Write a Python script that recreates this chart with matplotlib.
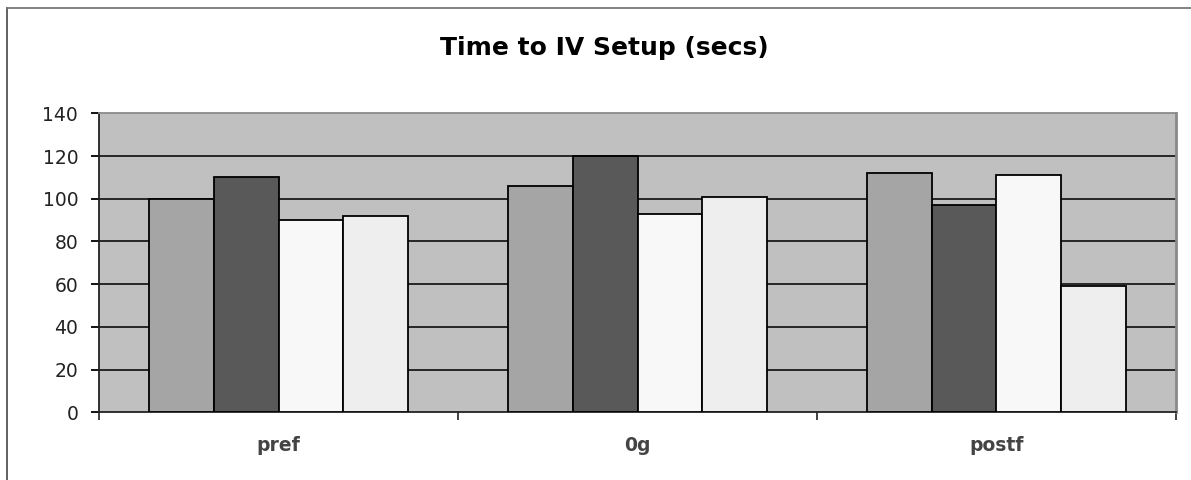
import matplotlib
matplotlib.use("Agg")
import matplotlib.pyplot as plt
import numpy as np
from matplotlib.lines import Line2D

categories = ["pref", "0g", "postf"]
series_a = [100, 106, 112]
series_b = [110, 120, 97]
series_c = [90, 93, 111]
series_d = [92, 101, 59]
y_ticks = [0, 20, 40, 60, 80, 100, 120, 140]

series = [series_a, series_b, series_c, series_d]
colors = ["#A5A5A5", "#595959", "#F8F8F8", "#EEEEEE"]

plt.rcParams["font.family"] = ["DejaVu Sans"]

W, H = 1191, 480
fig = plt.figure(figsize=(W / 100, H / 100), dpi=100)
fig.patch.set_facecolor("white")

# outer chart frame: left and top edges
fig.add_artist(Line2D([7 / W, 7 / W], [0, 1 - 8 / H], transform=fig.transFigure,
                      color="#555555", linewidth=1.3))
fig.add_artist(Line2D([7 / W, 1], [1 - 8 / H, 1 - 8 / H], transform=fig.transFigure,
                      color="#777777", linewidth=1.3))

ax = fig.add_axes([99 / W, 67.7 / H, (1176 - 99) / W, (412.3 - 113.3) / H])
ax.set_facecolor("#C0C0C0")

x = np.arange(len(categories))
width = 0.18
offsets = [-0.27, -0.09, 0.09, 0.27]
for vals, off, col in zip(series, offsets, colors):
    ax.bar(x + off, vals, width, color=col, edgecolor="black", linewidth=1.3, zorder=3)

ax.set_xlim(-0.5, len(categories) - 0.5)
ax.set_ylim(0, 140)
ax.set_yticks(y_ticks)
for yv in y_ticks[1:-1]:
    ax.axhline(yv, color="#1a1a1a", linewidth=1.3, zorder=1)

ax.set_xticks(x)
ax.set_xticklabels(categories, fontsize=13.5, fontweight="bold", color="#444444")
ax.tick_params(axis="x", which="major", length=0, pad=17)
ax.set_xticks(np.arange(-0.5, len(categories), 1.0), minor=True)
ax.tick_params(axis="x", which="minor", length=6, width=1.3, direction="out", color="#333333")
ax.tick_params(axis="y", length=6, width=1.3, direction="out", labelsize=13.5, pad=9,
               labelcolor="#222222")

ax.spines["left"].set_color("#222222")
ax.spines["left"].set_linewidth(1.3)
ax.spines["bottom"].set_color("#222222")
ax.spines["bottom"].set_linewidth(1.3)
ax.spines["top"].set_color("#8a8a8a")
ax.spines["top"].set_linewidth(1.3)
ax.spines["right"].set_color("#8a8a8a")
ax.spines["right"].set_linewidth(2)

fig.text(604 / W, 1 - 55 / H, "Time to IV Setup (secs)", ha="center", va="baseline",
         fontsize=18, fontweight="bold", color="black")

fig.savefig("out.png", dpi=100, facecolor="white")
